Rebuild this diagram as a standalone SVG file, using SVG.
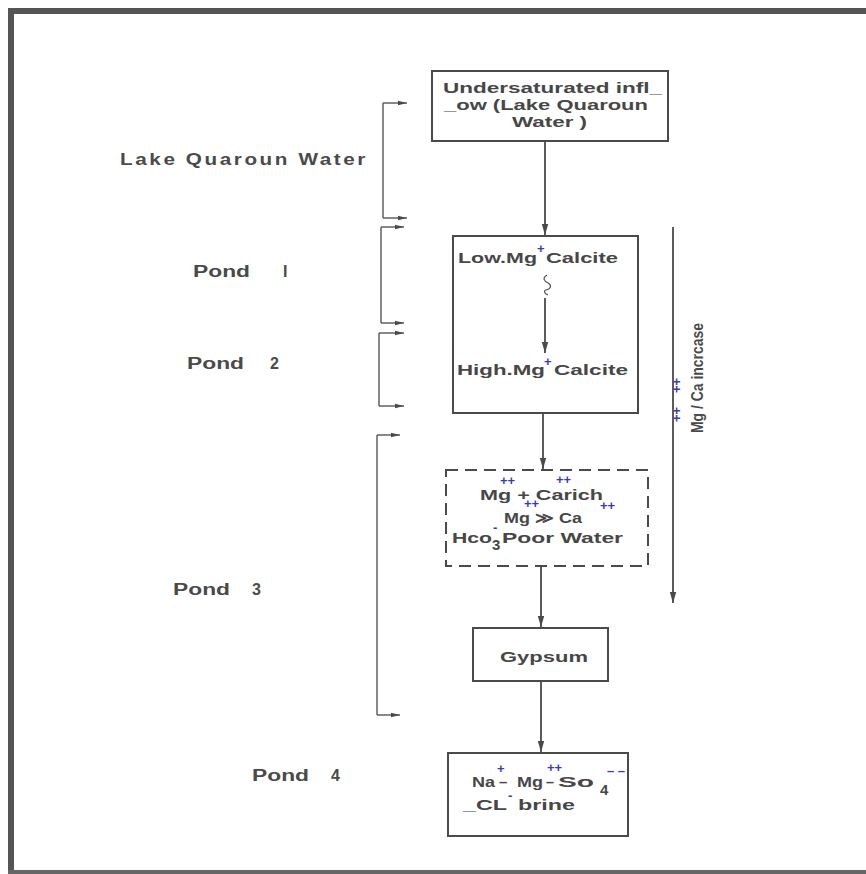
<svg xmlns="http://www.w3.org/2000/svg" width="866" height="874" viewBox="0 0 866 874">
<defs>
<marker id="ah" markerWidth="12" markerHeight="8" refX="11" refY="4" orient="auto" markerUnits="userSpaceOnUse">
<path d="M0,0.8 L11,4 L0,7.2 Z" fill="#4a4a4a"/>
</marker>
<marker id="sh" markerWidth="10" markerHeight="6" refX="9" refY="3" orient="auto" markerUnits="userSpaceOnUse">
<path d="M0,0.8 L9,3 L0,5.2 Z" fill="#4a4a4a"/>
</marker>
</defs>
<style>
.t{font-family:"Liberation Sans",Arial,sans-serif;font-weight:bold;font-size:15px;fill:#474747}
.p{font-family:"Liberation Sans",Arial,sans-serif;font-weight:bold;font-size:16px;fill:#4a4a4a}
.b{font-family:"Liberation Sans",Arial,sans-serif;font-weight:bold;font-size:13px;fill:#3b3bb0}
.box{fill:none;stroke:#4a4a4a;stroke-width:2}
.dash{fill:none;stroke:#4a4a4a;stroke-width:2;stroke-dasharray:12,7}
.ln{fill:none;stroke:#4a4a4a;stroke-width:1.8}
.br{fill:none;stroke:#555;stroke-width:1.4}
</style>
<rect width="866" height="874" fill="#fff"/>
<g id="frame">
<path d="M11,872 L11,11 L866,11" fill="none" stroke="#555" stroke-width="6"/>
<line x1="8" y1="872" x2="866" y2="872" stroke="#666" stroke-width="4"/>
</g>

<g id="labels">
<text class="p" x="120" y="165" font-size="17" letter-spacing="2" textLength="248" lengthAdjust="spacingAndGlyphs">Lake Quaroun Water</text>
<text class="p" x="193" y="277" textLength="57" lengthAdjust="spacingAndGlyphs">Pond</text>
<text class="p" x="283" y="277">I</text>
<text class="p" x="187" y="369" textLength="57" lengthAdjust="spacingAndGlyphs">Pond</text>
<text class="p" x="270" y="369">2</text>
<text class="p" x="173" y="595" textLength="57" lengthAdjust="spacingAndGlyphs">Pond</text>
<text class="p" x="252" y="595">3</text>
<text class="p" x="252" y="781" textLength="57" lengthAdjust="spacingAndGlyphs">Pond</text>
<text class="p" x="331" y="781">4</text>
</g>

<g id="n1">
<rect class="box" x="432" y="71" width="236" height="70"/>
<text class="t" x="443" y="93" textLength="219" lengthAdjust="spacingAndGlyphs">Undersaturated infl_</text>
<text class="t" x="444" y="110" textLength="204" lengthAdjust="spacingAndGlyphs">_ow (Lake Quaroun</text>
<text class="t" x="512" y="127" textLength="75" lengthAdjust="spacingAndGlyphs">Water )</text>
</g>

<g id="n2">
<rect class="box" x="453" y="236" width="185" height="177"/>
<text class="t" x="458" y="263" textLength="79" lengthAdjust="spacingAndGlyphs">Low.Mg</text>
<text class="b" x="537" y="253">+</text>
<text class="t" x="546" y="263" textLength="72" lengthAdjust="spacingAndGlyphs">Calcite</text>
<path d="M547,275 c-5,3 -3,6 1,8 c4,2 3,6 -2,7 c-3,1 -1,4 2,5" fill="none" stroke="#555" stroke-width="1.2"/>
<text class="t" x="457" y="375" textLength="88" lengthAdjust="spacingAndGlyphs">High.Mg</text>
<text class="b" x="544" y="366">+</text>
<text class="t" x="554" y="375" textLength="74" lengthAdjust="spacingAndGlyphs">Calcite</text>
</g>

<g id="n3">
<rect class="dash" x="446" y="470" width="202" height="96"/>
<text class="t" x="480" y="500" textLength="123" lengthAdjust="spacingAndGlyphs">Mg + Carich</text>
<text class="b" x="500" y="485" font-size="11">++</text>
<text class="b" x="556" y="484" font-size="11">++</text>
<text class="t" x="504" y="523" textLength="78" lengthAdjust="spacingAndGlyphs">Mg ≫ Ca</text>
<text class="b" x="524" y="508" font-size="11">++</text>
<text class="b" x="600" y="510" font-size="11">++</text>
<text class="t" x="452" y="543" textLength="40" lengthAdjust="spacingAndGlyphs">Hco</text>
<text class="t" x="492" y="550" font-size="13">3</text>
<text class="b" x="493" y="532">-</text>
<text class="t" x="502" y="543" textLength="121" lengthAdjust="spacingAndGlyphs">Poor Water</text>
</g>

<g id="n4">
<rect class="box" x="473" y="628" width="135" height="53"/>
<text class="t" x="500" y="662" textLength="88" lengthAdjust="spacingAndGlyphs">Gypsum</text>
</g>

<g id="n5">
<rect class="box" x="448" y="753" width="180" height="83"/>
<text class="t" x="472" y="787" textLength="23" lengthAdjust="spacingAndGlyphs">Na</text>
<text class="t" x="499" y="787">–</text>
<text class="t" x="517" y="787" textLength="26" lengthAdjust="spacingAndGlyphs">Mg</text>
<text class="t" x="546" y="787" textLength="8" lengthAdjust="spacingAndGlyphs">–</text>
<text class="t" x="558" y="787" textLength="36" lengthAdjust="spacingAndGlyphs">So</text>
<text class="t" x="600" y="795" font-size="14">4</text>
<text class="b" x="497" y="773" font-size="11">+</text>
<text class="b" x="547" y="772" font-size="11">++</text>
<text class="b" x="607" y="775" font-size="12">– –</text>
<text class="t" x="463" y="810" textLength="44" lengthAdjust="spacingAndGlyphs">_CL</text>
<text class="b" x="508" y="800">-</text>
<text class="t" x="518" y="810" textLength="57" lengthAdjust="spacingAndGlyphs">brine</text>
</g>

<g id="trend">
<line class="ln" x1="673" y1="227" x2="673" y2="603" marker-end="url(#ah)"/>
<text class="p" transform="translate(703,433) rotate(-90)" font-size="17" textLength="110" lengthAdjust="spacingAndGlyphs">Mg / Ca incrcase</text>
<text class="b" transform="translate(681,422) rotate(-90)" font-size="11">++</text>
<text class="b" transform="translate(681,393) rotate(-90)" font-size="11">++</text>
</g>

<g id="connectors">
<line class="ln" x1="545" y1="141" x2="545" y2="235" marker-end="url(#ah)"/>
<line class="ln" x1="545" y1="298" x2="545" y2="353" marker-end="url(#ah)"/>
<line class="ln" x1="543" y1="413" x2="543" y2="469" marker-end="url(#ah)"/>
<line class="ln" x1="541" y1="566" x2="541" y2="627" marker-end="url(#ah)"/>
<line class="ln" x1="541" y1="681" x2="541" y2="752" marker-end="url(#ah)"/>
<path class="br" d="M383,103 L383,218"/>
<line class="br" x1="383" y1="103" x2="407" y2="103" marker-end="url(#sh)"/>
<line class="br" x1="383" y1="218" x2="407" y2="218" marker-end="url(#sh)"/>
<path class="br" d="M381,227 L381,323"/>
<line class="br" x1="381" y1="227" x2="404" y2="227" marker-end="url(#sh)"/>
<line class="br" x1="381" y1="323" x2="404" y2="323" marker-end="url(#sh)"/>
<path class="br" d="M379,333 L379,406"/>
<line class="br" x1="379" y1="333" x2="404" y2="333" marker-end="url(#sh)"/>
<line class="br" x1="379" y1="406" x2="404" y2="406" marker-end="url(#sh)"/>
<path class="br" d="M377,435 L377,715"/>
<line class="br" x1="377" y1="435" x2="400" y2="435" marker-end="url(#sh)"/>
<line class="br" x1="377" y1="715" x2="400" y2="715" marker-end="url(#sh)"/>
</g>
</svg>
